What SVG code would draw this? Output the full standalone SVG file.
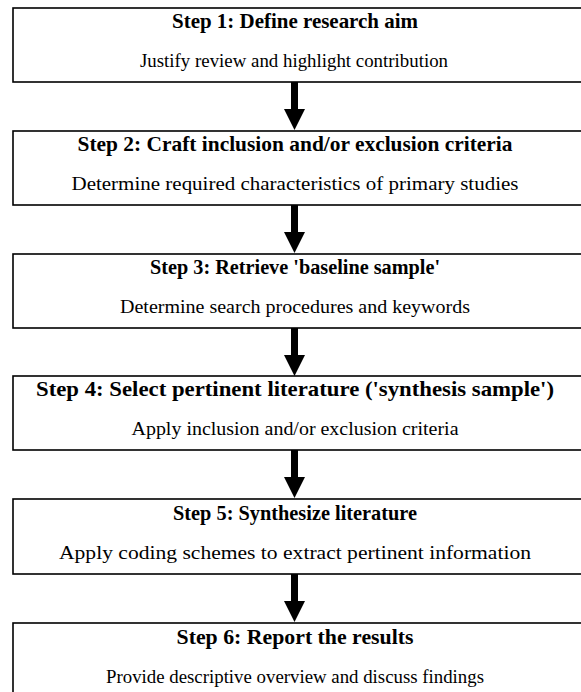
<svg xmlns="http://www.w3.org/2000/svg" width="581" height="692" viewBox="0 0 581 692">
<style>
.box{fill:#fff;stroke:#000;stroke-width:1.6}
.t{font-family:"Liberation Serif","Times New Roman",serif;font-size:21px;font-weight:bold;text-anchor:middle;fill:#000}
.s{font-family:"Liberation Serif","Times New Roman",serif;font-size:19.5px;text-anchor:middle;fill:#000}
.arr{fill:#000}
</style>
<defs>
<path id="ar" d="M-3.5,0 H3.5 V27 H10.5 L0,48 L-10.5,27 H-3.5 Z"/>
</defs>
<rect width="581" height="692" fill="#fff"/>
<g id="connectors">
<use href="#ar" class="arr" x="294.5" y="82"/>
<use href="#ar" class="arr" x="294.5" y="205"/>
<use href="#ar" class="arr" x="294.5" y="328"/>
<use href="#ar" class="arr" x="294.5" y="450"/>
<use href="#ar" class="arr" x="294.5" y="574"/>
</g>
<g id="step1">
<rect class="box" x="13" y="8" width="590" height="74"/>
<text class="t" x="295" y="28" textLength="246" lengthAdjust="spacingAndGlyphs">Step 1: Define research aim</text>
<text class="s" x="294" y="67" textLength="308" lengthAdjust="spacingAndGlyphs">Justify review and highlight contribution</text>
</g>
<g id="step2">
<rect class="box" x="13" y="131" width="590" height="74"/>
<text class="t" x="295" y="151" textLength="435" lengthAdjust="spacingAndGlyphs">Step 2: Craft inclusion and/or exclusion criteria</text>
<text class="s" x="295" y="190" textLength="447" lengthAdjust="spacingAndGlyphs">Determine required characteristics of primary studies</text>
</g>
<g id="step3">
<rect class="box" x="13" y="254" width="590" height="74"/>
<text class="t" x="295" y="274" textLength="290" lengthAdjust="spacingAndGlyphs">Step 3: Retrieve 'baseline sample'</text>
<text class="s" x="295" y="313" textLength="350" lengthAdjust="spacingAndGlyphs">Determine search procedures and keywords</text>
</g>
<g id="step4">
<rect class="box" x="13" y="376" width="590" height="74"/>
<text class="t" x="295" y="396" textLength="518" lengthAdjust="spacingAndGlyphs">Step 4: Select pertinent literature ('synthesis sample')</text>
<text class="s" x="295" y="435" textLength="327" lengthAdjust="spacingAndGlyphs">Apply inclusion and/or exclusion criteria</text>
</g>
<g id="step5">
<rect class="box" x="13" y="499" width="590" height="75"/>
<text class="t" x="295" y="520" textLength="244" lengthAdjust="spacingAndGlyphs">Step 5: Synthesize literature</text>
<text class="s" x="295" y="559" textLength="472" lengthAdjust="spacingAndGlyphs">Apply coding schemes to extract pertinent information</text>
</g>
<g id="step6">
<rect class="box" x="13" y="623" width="590" height="80"/>
<text class="t" x="295" y="644" textLength="237" lengthAdjust="spacingAndGlyphs">Step 6: Report the results</text>
<text class="s" x="295" y="683" textLength="378" lengthAdjust="spacingAndGlyphs">Provide descriptive overview and discuss findings</text>
</g>
</svg>
